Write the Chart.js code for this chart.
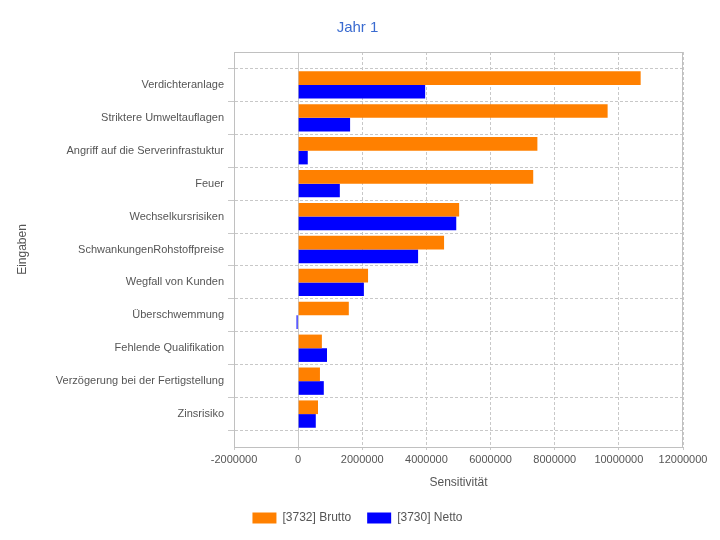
<!DOCTYPE html>
<html>
<head>
<meta charset="utf-8">
<script src="https://cdn.jsdelivr.net/npm/chart.js@4/dist/chart.umd.min.js"></script>
<style>
  html, body { margin: 0; padding: 0; background: #fff; }
  #wrap { width: 720px; height: 540px; }
</style>
</head>
<body>
<div id="wrap"><canvas id="c" width="720" height="540"></canvas></div>
<script>
const categories = [
  'Verdichteranlage',
  'Striktere Umweltauflagen',
  'Angriff auf die Serverinfrastuktur',
  'Feuer',
  'Wechselkursrisiken',
  'SchwankungenRohstoffpreise',
  'Wegfall von Kunden',
  'Überschwemmung',
  'Fehlende Qualifikation',
  'Verzögerung bei der Fertigstellung',
  'Zinsrisiko'
];
const brutto = [10680000, 9650000, 7460000, 7330000, 5020000, 4550000, 2180000, 1580000, 740000, 680000, 620000];
const netto  = [3960000, 1620000, 300000, 1300000, 4930000, 3740000, 2050000, -50000, 900000, 800000, 550000];
const seriesNames = ['[3732] Brutto', '[3730] Netto'];
const xTicks = [-2000000, 0, 2000000, 4000000, 6000000, 8000000, 10000000, 12000000];

// pad with half-band empty slots at top and bottom
const labels = [''].concat(categories, ['']);
const pad = arr => [null].concat(arr, [null]);

const FONT = 'Liberation Sans';
const GRID = '#c8c8c8';
const DASH = [3, 2];

const frame = {
  id: 'frame',
  afterDatasetsDraw(chart) {
    const a = chart.chartArea, c = chart.ctx;
    c.save();
    c.strokeStyle = '#c0c0c0';
    c.lineWidth = 1;
    c.strokeRect(Math.round(a.left) + 0.5, Math.round(a.top) + 0.5, Math.round(a.right - a.left) - 1, Math.round(a.bottom - a.top));
    c.restore();
  }
};

new Chart(document.getElementById('c'), {
  type: 'bar',
  data: {
    labels: labels,
    datasets: [
      { label: seriesNames[0], data: pad(brutto), backgroundColor: '#FF8000', borderWidth: 0 },
      { label: seriesNames[1], data: pad(netto), backgroundColor: '#0000FF', borderWidth: 0 }
    ]
  },
  options: {
    indexAxis: 'y',
    responsive: false,
    animation: false,
    categoryPercentage: 0.83,
    barPercentage: 1.0,
    layout: { padding: { left: 0, right: 5, top: 0, bottom: 6 } },
    plugins: {
      tooltip: { enabled: false },
      title: {
        display: true,
        text: 'Jahr 1',
        color: '#3a6bd0',
        font: { family: FONT, size: 15, weight: 'normal' },
        padding: { top: 19, bottom: 15 }
      },
      legend: {
        position: 'bottom',
        labels: {
          boxWidth: 24,
          boxHeight: 11,
          padding: 16,
          color: '#555',
          font: { family: FONT, size: 12 }
        }
      }
    },
    scales: {
      x: {
        type: 'linear',
        min: -2000000,
        max: 12000000,
        afterBuildTicks: (scale) => { scale.ticks = xTicks.map(v => ({ value: v })); },
        afterFit: (scale) => { scale.height = 49; },
        ticks: {
          color: '#555',
          font: { family: FONT, size: 11 },
          padding: 3,
          maxRotation: 0,
          callback: (v) => String(v)
        },
        grid: {
          color: GRID,
          tickLength: 3,
          tickColor: GRID
        },
        border: {
          color: '#c0c0c0',
          dash: (ctx) => (ctx.tick && ctx.tick.value === 0) ? [] : DASH
        },
        title: {
          display: true,
          text: 'Sensitivität',
          color: '#555',
          font: { family: FONT, size: 12 },
          padding: 6
        }
      },
      y: {
        type: 'category',
        offset: false,
        afterFit: (scale) => { scale.width = 234; },
        ticks: {
          autoSkip: false,
          color: '#555',
          font: { family: FONT, size: 11 },
          padding: 4
        },
        grid: {
          offset: true,
          color: GRID,
          tickLength: 6,
          tickColor: GRID
        },
        border: {
          color: '#c0c0c0',
          dash: DASH
        },
        title: {
          display: true,
          text: 'Eingaben',
          color: '#555',
          font: { family: FONT, size: 12 },
          padding: 15
        }
      },
      spacer: {
        type: 'linear',
        position: 'right',
        display: true,
        afterFit: (scale) => { scale.width = 32; },
        ticks: { display: false },
        grid: { display: false, drawOnChartArea: false, drawTicks: false },
        border: { display: false }
      }
    }
  },
  plugins: [frame]
});
</script>
</body>
</html>
